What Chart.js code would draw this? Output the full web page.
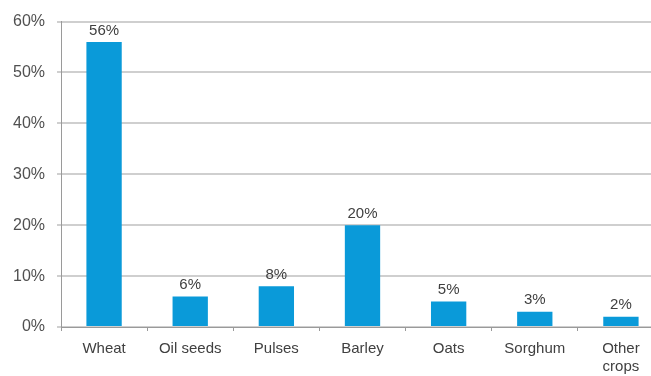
<!DOCTYPE html>
<html>
<head>
<meta charset="utf-8">
<script src="https://cdn.jsdelivr.net/npm/chart.js@4/dist/chart.umd.min.js"></script>
<style>
  html, body { margin: 0; padding: 0; background: #ffffff; overflow: hidden; }
  #wrap { width: 664px; height: 376px; }
</style>
</head>
<body>
<div id="wrap"><canvas id="c"></canvas></div>
<script>
// Share of cropped area by crop type (%)
const categories = ['Wheat', 'Oil seeds', 'Pulses', 'Barley', 'Oats', 'Sorghum', ['Other', 'crops']];
const shares = [56, 6, 8, 20, 5, 3, 2];
const yTicks = [0, 10, 20, 30, 40, 50, 60];

const FONT = "'Liberation Sans', Arial, sans-serif";

// Writes each bar's value just above its top
const valueLabels = {
  id: 'valueLabels',
  afterDatasetsDraw(chart) {
    const ctx = chart.ctx;
    const meta = chart.getDatasetMeta(0);
    ctx.save();
    ctx.font = '15px ' + FONT;
    ctx.fillStyle = '#404040';
    ctx.textAlign = 'center';
    ctx.textBaseline = 'bottom';
    meta.data.forEach((bar, i) => {
      ctx.fillText(shares[i] + '%', bar.x, bar.y - 4);
    });
    ctx.restore();
  }
};

new Chart(document.getElementById('c'), {
  type: 'bar',
  data: {
    labels: categories,
    datasets: [{
      data: shares,
      backgroundColor: '#0a9ad9',
      borderWidth: 0,
      categoryPercentage: 1,
      barPercentage: 0.41
    }]
  },
  options: {
    responsive: true,
    maintainAspectRatio: false,
    animation: false,
    layout: { padding: { top: 16, right: 0, left: 0, bottom: 0 } },
    plugins: { legend: { display: false }, tooltip: { enabled: false } },
    scales: {
      x: {
        grid: {
          display: true,
          drawOnChartArea: false,
          drawTicks: true,
          tickLength: 4,
          offset: true,
          color: '#9a9a9a'
        },
        border: { color: '#9a9a9a', width: 1 },
        ticks: {
          font: { family: FONT, size: 15 },
          color: '#404040',
          padding: 9,
          maxRotation: 0,
          autoSkip: false
        },
        afterFit(scale) { scale.height = 49; }
      },
      y: {
        min: 0,
        max: 60,
        afterBuildTicks(scale) { scale.ticks = yTicks.map(v => ({ value: v })); },
        grid: {
          color: '#cfcfcf',
          lineWidth: 2,
          drawTicks: true,
          tickLength: 4
        },
        border: { color: '#9a9a9a', width: 1 },
        ticks: {
          font: { family: FONT, size: 16 },
          color: '#505050',
          padding: 12,
          callback: v => v + '%'
        },
        afterFit(scale) { scale.width = 61; }
      }
    }
  },
  plugins: [valueLabels]
});
</script>
</body>
</html>
